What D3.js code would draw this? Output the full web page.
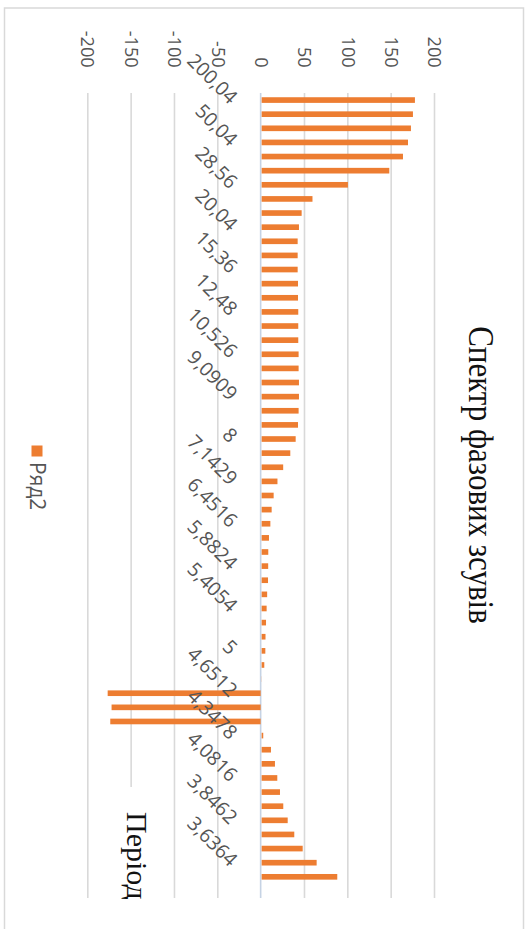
<!DOCTYPE html>
<html><head><meta charset="utf-8">
<script src="https://cdn.jsdelivr.net/npm/d3@7"></script>
<style>body{margin:0;background:#fff}svg{display:block}</style>
</head><body>
<svg id="c" width="532" height="929"></svg>
<script>
// ---- data ----
const categories = [
 "200,04","100,02","66,68","50,04","40,008","33,34","28,56","25,005","22,227","20,04",
 "18,185","16,67","15,36","14,289","13,336","12,48","11,767","11,113","10,526","10,002",
 "9,5257","9,0909","8,6957","8,3333","8","7,6923","7,4074","7,1429","6,8966","6,6667",
 "6,4516","6,25","6,0606","5,8824","5,7143","5,5556","5,4054","5,2632","5,1282","5",
 "4,878","4,7619","4,6512","4,5455","4,4444","4,3478","4,2553","4,1667","4,0816","4",
 "3,9216","3,8462","3,7736","3,7037","3,6364","3,5714","3,5088"];
const phase = [
 178,175.7,173.4,170,164.2,148.4,100.7,59.8,47.3,44.2,
 42.7,42.7,42.7,43.1,43.1,43.4,43.4,43.4,43.8,43.8,
 44.2,44.2,43.8,43.1,40.4,34.2,26,19.4,15,12.7,
 11.2,9.6,8.8,8.7,8.5,7.5,6.9,6.2,5.6,5.4,
 4.2,1,-176.5,-172,-173.5,3,11.9,16.5,19.2,22.3,
 26.1,31.2,38.8,48.5,64.6,88.4,null];
const valueTicks = [-200,-150,-100,-50,0,50,100,150,200];
const seriesName = "Ряд2";
const chartTitle = "Спектр фазових зсувів";
const axisTitle = "Період";

// ---- drawing ----
const svg = d3.select("#c");
svg.append("rect").attr("width",532).attr("height",929).attr("fill","#fff");
svg.append("rect").attr("x",4.5).attr("y",8).attr("width",519).attr("height",940)
  .attr("fill","#fff").attr("stroke","#d9d9d9").attr("stroke-width",1.5);

const top0 = 93, bot0 = 898;
const x = d3.scaleLinear().domain([-200,200]).range([87.3,434]);
const y = d3.scaleBand().domain(categories).range([top0,bot0]).paddingInner(0.6).paddingOuter(0.3);

const gAx = svg.append("g").attr("transform",`translate(0,${top0})`)
  .call(d3.axisTop(x).tickValues(valueTicks).tickSize(-(bot0-top0)).tickFormat(d=>String(d)));
gAx.select(".domain").remove();
gAx.selectAll(".tick line").attr("stroke","#d9d9d9").attr("stroke-width",1.6)
  .attr("display", d=>d===0?"none":null);
gAx.selectAll(".tick text")
  .attr("x",0).attr("y",0).attr("dy","0.35em")
  .attr("transform","translate(0,-25.5) rotate(90)")
  .attr("text-anchor","end")
  .attr("fill","#555").style("font-family","'Open Sans',sans-serif").style("font-size","18px");

// zero axis
svg.append("line").attr("x1",x(0)).attr("x2",x(0)).attr("y1",top0).attr("y2",bot0)
  .attr("stroke","#c6d3e4").attr("stroke-width",1.6);

// bars
svg.append("g").selectAll("rect").data(categories.map((c,i)=>({c,v:phase[i]})).filter(d=>d.v!==null))
  .join("rect")
  .attr("x",d=>Math.min(x(0)+1,x(d.v)))
  .attr("width",d=>Math.abs(x(d.v)-x(0)-(d.v>0?1:0)))
  .attr("y",d=>y(d.c)).attr("height",y.bandwidth())
  .attr("fill","#ED7D31");

// category labels
const gCat = svg.append("g").attr("transform","translate(234,0)")
  .call(d3.axisLeft(y).tickSize(0).tickValues(categories.filter((d,i)=>i%3===0)));
gCat.select(".domain").remove();
gCat.selectAll(".tick text")
  .attr("x",0).attr("dy","0.36em").attr("text-anchor","end")
  .attr("transform","rotate(45)")
  .attr("fill","#555").style("font-family","'Open Sans',sans-serif").style("font-size","19.5px");

// axis title box
svg.append("rect").attr("x",113).attr("y",787).attr("width",38).attr("height",142).attr("fill","#fff");
svg.append("text").text(axisTitle)
  .attr("transform","translate(126.5,812) rotate(90)")
  .attr("fill","#111").style("font-family","'Liberation Serif',serif").style("font-size","30px");

// chart title
svg.append("text").text(chartTitle)
  .attr("transform","translate(469,475) rotate(90) scale(1,1.18)")
  .attr("text-anchor","middle")
  .attr("fill","#111").style("font-family","'Liberation Serif',serif").style("font-size","31px");

// legend
svg.append("rect").attr("x",31.5).attr("y",445.5).attr("width",11).attr("height",11).attr("fill","#ED7D31");
svg.append("text").text(seriesName)
  .attr("transform","translate(37,462) rotate(90)").attr("dy","0.35em")
  .attr("fill","#555").style("font-family","'Open Sans',sans-serif").style("font-size","21px");
</script>
</body></html>
